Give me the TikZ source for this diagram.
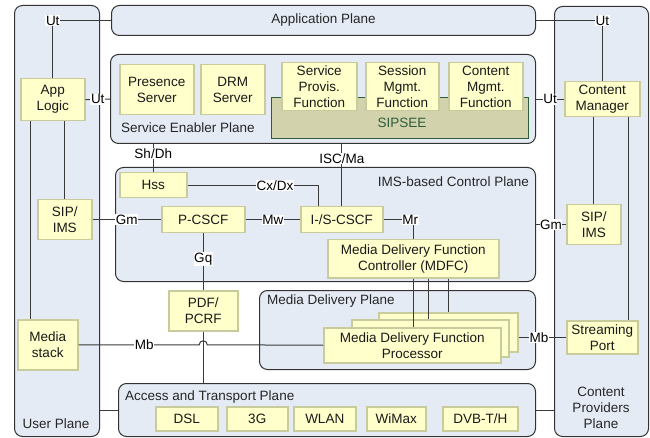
\documentclass[tikz,border=0pt]{standalone}
\usepackage{fontspec}
\setmainfont{Liberation Sans}
\usetikzlibrary{calc}
\definecolor{planefill}{HTML}{E5EBF5}
\definecolor{planeedge}{HTML}{333333}
\definecolor{boxfill}{HTML}{FFFFCC}
\definecolor{boxedge}{HTML}{C8CB9B}
\definecolor{seefill}{HTML}{D2D2AC}
\definecolor{seeedge}{HTML}{2F5D3C}
\definecolor{linecol}{HTML}{3A3A3A}
\begin{document}
\begin{tikzpicture}[x=1pt,y=-1pt,font=\fontsize{13.5}{16}\selectfont,
  plane/.style={draw=planeedge, fill=planefill, rounded corners=8pt, line width=1pt, anchor=north west, inner sep=0pt},
  box/.style={draw=boxedge, fill=boxfill, line width=1.5pt, anchor=north west, inner sep=0pt, align=center, text=black!90},
  see/.style={draw=seeedge, fill=seefill, line width=1pt, anchor=north west, inner sep=0pt},
  sz/.style 2 args={minimum width=#1pt, minimum height=#2pt},
  conn/.style={draw=linecol, line width=1pt},
  lbl/.style={fill=white, inner sep=0.6pt, text=black},
  ptitle/.style={inner sep=0pt, text=black!85, align=center}]
\useasboundingbox (0,0) rectangle (650,438);
% planes
\node[plane, sz={85}{431}] (userplane) at (14,5) {};
\node[plane, sz={424}{30}] (appplane) at (111,5) {};
\node[plane, sz={94}{430}] (cpp) at (554,6) {};
\node[plane, sz={425}{89}] (sep) at (110,54) {};
\node[plane, sz={420}{114}] (ims) at (115,167) {};
\node[plane, sz={276}{79}] (mdp) at (259,290) {};
\node[plane, sz={417}{53}] (atp) at (118,383) {};
% plane titles
\node[ptitle] (apptitle) at (appplane.center) {Application Plane};
\node[ptitle, anchor=west] (septitle) at (121,128) {Service Enabler Plane};
\node[ptitle, anchor=east] (imstitle) at (529,182) {IMS-based Control Plane};
\node[ptitle, anchor=west] (mdptitle) at (267,301) {Media Delivery Plane};
\node[ptitle, anchor=west] (atptitle) at (125,397) {Access and Transport Plane};
\node[ptitle] (uptitle) at (56,424) {User Plane};
\node[ptitle] (cpptitle) at (601,408) {Content\\Providers\\Plane};
% SIPSEE
\node[see, sz={257}{41}] (sipsee) at (271,97) {};
\node[inner sep=0pt, text=seeedge] (sipseelbl) at (402,123) {SIPSEE};
% boxes
\node[box, sz={64}{42}] (applogic) at (20,78) {App\\Logic};
\node[box, sz={74}{50}] (presence) at (119,64) {Presence\\Server};
\node[box, sz={64}{50}] (drm) at (200,64) {DRM\\Server};
\node[box, sz={75}{48}] (svcprov) at (281,62) {Service\\Provis.\\Function};
\node[box, sz={73}{48}] (sessmgmt) at (365,62) {Session\\Mgmt.\\Function};
\node[box, sz={74}{48}] (contmgmt) at (448,62) {Content\\Mgmt.\\Function};
\node[box, sz={75}{35}] (cm) at (564,81) {Content\\Manager};
\node[box, sz={67}{25}] (hss) at (119,172) {Hss};
\node[box, sz={54}{40}] (sipl) at (37,199) {SIP/\\IMS};
\node[box, sz={83}{26}] (pcscf) at (161,206) {P-CSCF};
\node[box, sz={82}{26}] (iscscf) at (300,206) {I-/S-CSCF};
\node[box, sz={171}{38}] (mdfc) at (327,239) {Media Delivery Function\\Controller (MDFC)};
\node[box, sz={54}{40}] (sipr) at (566,204) {SIP/\\IMS};
\node[box, sz={69}{40}] (pdf) at (168,290) {PDF/\\PCRF};
\node[box, sz={60}{50}] (ms) at (17,319) {Media\\stack};
\node[box, sz={139}{39}] (mdfp3) at (378,312) {};
\node[box, sz={157}{37}] (mdfp2) at (351,319) {};
\node[box, sz={177}{35}] (mdfp1) at (323,327) {Media Delivery Function\\Processor};
\node[box, sz={71}{33}] (sp) at (566,320) {Streaming\\Port};
\node[box, sz={62}{24}] (dsl) at (155,406) {DSL};
\node[box, sz={61}{24}] (g3) at (226,406) {3G};
\node[box, sz={62}{24}] (wlan) at (293,406) {WLAN};
\node[box, sz={59}{24}] (wimax) at (366,406) {WiMax};
\node[box, sz={75}{24}] (dvb) at (442,406) {DVB-T/H};
% connectors
\draw[conn] (applogic.north) |- (appplane.west) node[lbl, pos=0.5] (ut1) {Ut};
\draw[conn] (appplane.east) -| (cm.north) node[lbl, pos=0.5] (ut2) {Ut};
\draw[conn] (applogic.east) -- (sep.west) node[lbl, midway] (ut3) {Ut};
\draw[conn] (sep.east |- cm.west) -- (cm.west) node[lbl, midway] (ut4) {Ut};
\draw[conn] ([xshift=-22pt]applogic.south) -- ([xshift=-22pt]applogic.south |- ms.north);
\draw[conn] (sipl.north |- applogic.south) -- (sipl.north);
\draw[conn] (sipr.north |- cm.south) -- (sipr.north);
\draw[conn] ([xshift=26.5pt]cm.south) -- ([xshift=26.5pt]cm.south |- sp.north);
\draw[conn] (sep.south -| hss.north) -- (hss.north) node[lbl, pos=0.33] (shdh) {Sh/Dh};
\draw[conn] (sep.south -| iscscf.north) -- (iscscf.north) node[lbl, pos=0.24] (iscma) {ISC/Ma};
\draw[conn] (hss.east) -| ([xshift=-23pt]iscscf.north) node[lbl, pos=0.333] (cxdx) {Cx/Dx};
\draw[conn] (sipl.east) -- (pcscf.west) node[lbl, midway] (gm1) {Gm};
\draw[conn] (pcscf.east) -- (iscscf.west) node[lbl, midway] (mw) {Mw};
\draw[conn] (iscscf.east) -| (mdfc.north) node[lbl, pos=0.5, xshift=-3pt] (mr) {Mr};
\draw[conn] (ims.east |- sipr.west) -- (sipr.west) node[lbl, midway] (gm2) {Gm};
\draw[conn] (pcscf.south) -- (pdf.north) node[lbl, pos=0.45] (gq) {Gq};
\draw[conn] (pdf.south) -- (pdf.south |- atp.north);
\draw[conn] (ms.east) -- ([xshift=-4pt]pdf.south |- ms.east) node[lbl, pos=0.545] (mb1) {Mb}
  arc[start angle=180, end angle=0, radius=4pt] -- (mdfp1.west);
\draw[conn] ([xshift=15pt]mdfc.south) -- ([xshift=15pt]mdfc.south |- mdfp2.north);
\draw[conn] ([xshift=35.5pt]mdfc.south) -- ([xshift=35.5pt]mdfc.south |- mdfp3.north);
\draw[conn] (mdfc.south) -- (mdfc.south |- mdfp1.north);
\draw[conn] (sp.west) -- (sp.west -| mdfp3.east) node[lbl, pos=0.57] (mb2) {Mb};
\draw[conn] (atp.west) -- (atp.west -| userplane.east);
\draw[conn] (atp.east) -- (atp.east -| cpp.west);
\end{tikzpicture}
\end{document}
